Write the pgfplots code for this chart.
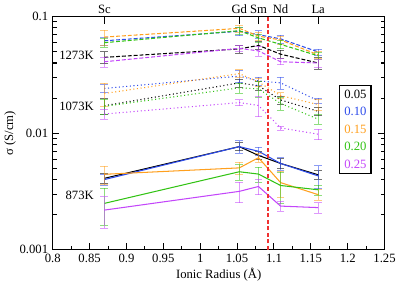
\documentclass[border=0pt]{standalone}
\usepackage{fontspec}
\setmainfont{Liberation Serif}
\usepackage{pgfplots}
\usepackage{pgfplotstable}
\pgfplotsset{compat=1.18}
\definecolor{cA}{RGB}{0,0,0}
\definecolor{cB}{RGB}{45,75,235}
\definecolor{cC}{RGB}{255,160,30}
\definecolor{cD}{RGB}{50,195,20}
\definecolor{cE}{RGB}{195,70,250}
\definecolor{cR}{RGB}{240,50,50}

% 1273 K
\pgfplotstableread{
x y e
0.87 0.0447 0.12
1.053 0.0528 0.08
1.079 0.0566 0.08
1.109 0.0476 0.08
1.16 0.0400 0.12
}\hA
\pgfplotstableread{
x y e
0.87 0.0620 0.08
1.053 0.0748 0.08
1.079 0.0700 0.08
1.109 0.0644 0.08
1.16 0.0498 0.06
}\hB
\pgfplotstableread{
x y e
0.87 0.0667 0.15
1.053 0.0793 0.07
1.079 0.0680 0.08
1.109 0.0630 0.08
1.16 0.0470 0.07
}\hC
\pgfplotstableread{
x y e
0.87 0.0597 0.08
1.053 0.0757 0.07
1.079 0.0657 0.08
1.109 0.0578 0.08
1.16 0.0461 0.07
}\hD
\pgfplotstableread{
x y e
0.87 0.0410 0.10
1.053 0.0534 0.06
1.079 0.0508 0.10
1.109 0.0410 0.06
1.16 0.0400 0.08
}\hE
% 1073 K
\pgfplotstableread{
x y e
0.87 0.0172 0.15
1.053 0.0270 0.08
1.079 0.0255 0.08
1.109 0.0193 0.08
1.16 0.0154 0.08
}\mA
\pgfplotstableread{
x y e
0.87 0.0242 0.08
1.053 0.0309 0.12
1.079 0.0281 0.08
1.109 0.0270 0.12
1.16 0.0190 0.05
}\mB
\pgfplotstableread{
x y e
0.87 0.0219 0.22
1.053 0.0324 0.08
1.079 0.0275 0.08
1.109 0.0210 0.06
1.16 0.0176 0.10
}\mC
\pgfplotstableread{
x y e
0.87 0.0170 0.15
1.053 0.0245 0.10
1.079 0.0240 0.15
1.109 0.0180 0.12
1.16 0.0132 0.10
}\mD
\pgfplotstableread{
x y e
0.87 0.0146 0.10
1.053 0.0183 0.06
1.079 0.0173 0.20
1.109 0.0111 0.04
1.16 0.0098 0.10
}\mE
% 873 K
\pgfplotstableread{
x y e
0.87 0.0041 0.10
1.053 0.00767 0.08
1.079 0.00645 0.08
1.109 0.0055 0.10
1.16 0.0044 0.08
}\lA
\pgfplotstableread{
x y e
0.87 0.0040 0.10
1.053 0.00767 0.12
1.079 0.0070 0.08
1.109 0.0055 0.12
1.16 0.0043 0.22
}\lB
\pgfplotstableread{
x y e
0.87 0.00444 0.18
1.053 0.00504 0.12
1.079 0.00616 0.08
1.109 0.00377 0.25
1.16 0.00297 0.10
}\lC
\pgfplotstableread{
x y e
0.87 0.0025 0.35
1.053 0.00467 0.15
1.079 0.00446 0.15
1.109 0.00356 0.30
1.16 0.00327 0.10
}\lD
\pgfplotstableread{
x y e
0.87 0.00219 0.30
1.053 0.00317 0.20
1.079 0.00349 0.15
1.109 0.00237 0.10
1.16 0.0023 0.10
}\lE

\begin{document}
\begin{tikzpicture}[font=\fontsize{9.7}{11}\selectfont]
\pgfplotsset{
  eb/.style={no markers, line width=0.8pt,
    error bars/y dir=both, error bars/y explicit relative,
    error bars/error bar style={line width=0.6pt, opacity=0.55, solid},
    error bars/error mark options={rotate=90, mark size=3pt, line width=0.6pt, opacity=0.55, solid}},
}
\begin{axis}[
  scale only axis, width=254pt, height=178.5pt,
  xmin=0.8, xmax=1.25, ymin=0.001, ymax=0.1, ymode=log,
  xtick={0.8,0.85,0.9,0.95,1,1.05,1.1,1.15,1.2,1.25},
  xticklabels={0.8,0.85,0.9,0.95,1,1.05,1.1,1.15,1.2,1.25},
  minor x tick num=1,
  ytick={0.001,0.01,0.1}, yticklabels={0.001,0.01,0.1},
  xtick pos=bottom, ytick pos=both,
  tick align=inside,
  major tick length=5pt, minor tick length=3pt,
  axis line style={line width=1pt},
  every tick/.style={line width=0.8pt, black},
  xlabel={Ionic Radius (Å)}, ylabel={σ (S/cm)},
  xlabel style={yshift=3pt}, ylabel style={yshift=-4pt},
  /pgf/number format/assume math mode=true,
  clip=false,
]
% 1273K dashed
\addplot[eb, cA, dash pattern=on 3pt off 1.5pt] table[x=x,y=y,y error=e]{\hA};
\addplot[eb, cB, dash pattern=on 3pt off 1.5pt] table[x=x,y=y,y error=e]{\hB};
\addplot[eb, cC, dash pattern=on 3pt off 1.5pt] table[x=x,y=y,y error=e]{\hC};
\addplot[eb, cD, dash pattern=on 3pt off 1.5pt] table[x=x,y=y,y error=e]{\hD};
\addplot[eb, cE, dash pattern=on 3pt off 1.5pt] table[x=x,y=y,y error=e]{\hE};
% 1073K dotted
\addplot[eb, cA, dotted] table[x=x,y=y,y error=e]{\mA};
\addplot[eb, cB, dotted] table[x=x,y=y,y error=e]{\mB};
\addplot[eb, cC, dotted] table[x=x,y=y,y error=e]{\mC};
\addplot[eb, cD, dotted] table[x=x,y=y,y error=e]{\mD};
\addplot[eb, cE, dotted] table[x=x,y=y,y error=e]{\mE};
% 873K solid
\addplot[eb, cA] table[x=x,y=y,y error=e]{\lA};
\addplot[eb, cB] table[x=x,y=y,y error=e]{\lB};
\addplot[eb, cC] table[x=x,y=y,y error=e]{\lC};
\addplot[eb, cD] table[x=x,y=y,y error=e]{\lD};
\addplot[eb, cE] table[x=x,y=y,y error=e]{\lE};
% red dashed line
\addplot[draw=cR, color=cR, dash pattern=on 3pt off 2pt, line width=0.9pt, no markers] coordinates {(1.092,0.001) (1.092,0.1)};
\node[anchor=east] at (axis cs:0.862,0.0464) {1273K};
\node[anchor=east] at (axis cs:0.862,0.0169) {1073K};
\node[anchor=east] at (axis cs:0.862,0.00292) {873K};
\node[draw, line width=0.8pt, fill=white, align=center, inner sep=3.5pt] at (rel axis cs:0.912,0.517)
  {\textcolor{cA}{0.05}\\[2.5pt] \textcolor{cB}{0.10}\\[2.5pt] \textcolor{cC}{0.15}\\[2.5pt] \textcolor{cD}{0.20}\\[2.5pt] \textcolor{cE}{0.25}};
\end{axis}
\begin{axis}[
  scale only axis, width=254pt, height=178.5pt,
  xmin=0.8, xmax=1.25, ymin=0.001, ymax=0.1, ymode=log,
  axis x line*=top, axis y line=none,
  xtick={0.87,1.053,1.079,1.109,1.16},
  xticklabels={Sc,Gd,Sm,Nd,La},
  tick align=inside, major tick length=6pt,
  every tick/.style={line width=0.8pt, black},
  axis line style={line width=1pt},
  xticklabel style={yshift=-1pt},
]
\end{axis}
\end{tikzpicture}
\end{document}
